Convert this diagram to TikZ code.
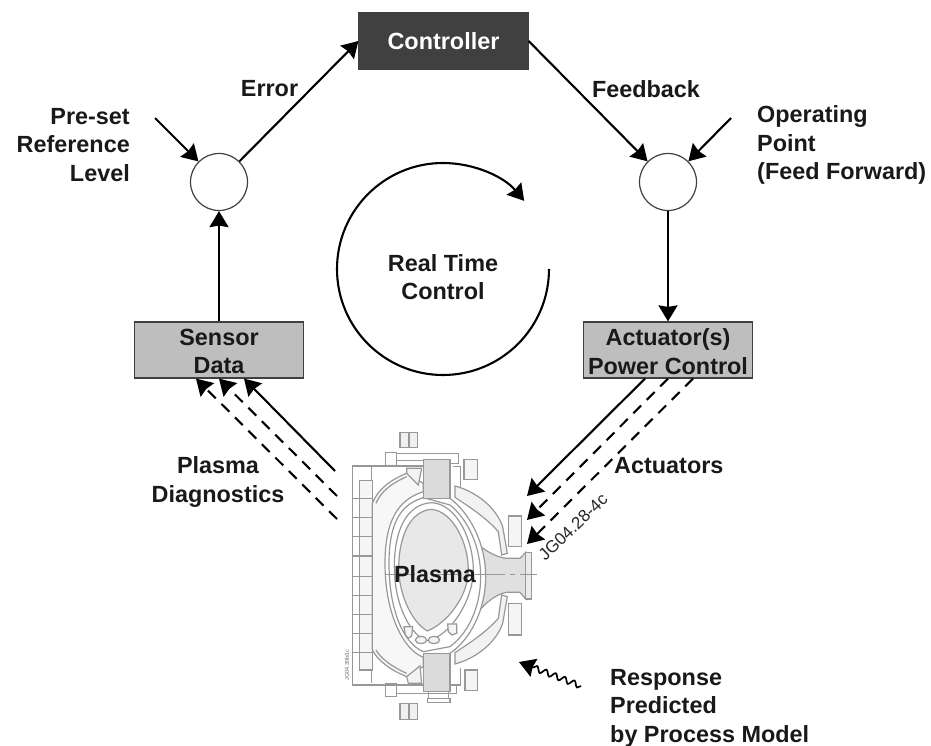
\documentclass[tikz,border=0pt]{standalone}
\usepackage{fontspec}
\setmainfont{Liberation Sans}
\usetikzlibrary{arrows.meta,decorations.pathmorphing}
\definecolor{darkbox}{HTML}{404040}
\definecolor{greybox}{HTML}{BEBEBE}
\definecolor{wallline}{HTML}{989898}
\tikzset{
  lbl/.style={font=\fontsize{23.4}{28.5}\selectfont\bfseries,inner sep=0pt,text=black!90},
  ctrlbox/.style={draw=darkbox,line width=1.2pt,minimum width=169pt,minimum height=56pt,inner sep=0pt},
  sumnode/.style={circle,draw=darkbox,line width=1.2pt,fill=white,minimum size=57pt,inner sep=0pt},
  flow/.style={line width=2.1pt,-{Stealth[length=16pt,width=19pt,inset=1.5pt]}},
  flowdash/.style={flow,dash pattern=on 11pt off 8pt},
  wall/.style={draw=wallline,line width=1.2pt},
}
\begin{document}
\begin{tikzpicture}[x=1pt,y=-1pt]
  \useasboundingbox (0,0) rectangle (931,746);
  % Tokamak section
  \begin{scope}[shift={(340,420)},x=0.3333pt,y=-0.3333pt]
    % coils top and bottom
    \foreach \x in {180,207} {
      \draw[wall,fill=black!6] (\x,37) rectangle +(26,46);
      \draw[wall,fill=black!6] (\x,850) rectangle +(26,48);
    }
    \draw[wall,fill=black!4] (372,118) rectangle (412,178);
    \draw[wall,fill=black!4] (505,288) rectangle (545,380);
    \draw[wall,fill=black!4] (505,550) rectangle (545,645);
    \draw[wall,fill=black!4] (375,750) rectangle (412,812);
    % frame
    \draw[wall] (38,135) -- (38,795) -- (250,795) (38,138) -- (250,138);
    \draw[wall] (95,138) -- (95,790);
    \draw[wall] (137,97) rectangle (170,140);
    \draw[wall] (137,790) rectangle (170,830);
    \draw[wall] (170,100) -- (355,100) -- (355,130) -- (330,130) (170,122) -- (250,122);
    \draw[wall] (170,820) -- (350,820) -- (350,795) -- (330,795);
    \draw[wall] (265,815) rectangle (325,835) (262,835) rectangle (330,848);
    \draw[wall] (340,140) -- (362,140) -- (362,200) (340,795) -- (362,795) -- (362,745);
    % left stack
    \draw[wall,fill=black!4] (58,182) rectangle (97,750);
    \foreach \y in {235,292,350,408,470,527,583,640,697} {
      \draw[wall] (38,\y) -- (97,\y);
    }
    % outer shell left
    \draw[wall,fill=black!3] (200,160) .. controls (150,180) and (112,210) .. (97,250)
      -- (97,690) .. controls (112,720) and (150,750) .. (200,770)
      -- (250,740) -- (250,190) -- cycle;
    \draw[wall] (200,170) .. controls (155,190) and (122,215) .. (108,250);
    \draw[wall] (200,760) .. controls (155,740) and (122,715) .. (108,690);
    \draw[wall,fill=black!5] (200,145) -- (245,145) -- (235,195) -- (200,160) -- cycle;
    \draw[wall,fill=black!5] (200,770) -- (240,738) -- (245,790) -- (205,790) -- cycle;
    % outer shell right
    \draw[wall,fill=black!5] (345,198) .. controls (410,215) and (470,265) .. (488,320)
      -- (502,400) -- (485,405) -- (475,335) .. controls (440,295) and (395,265) .. (345,232) -- cycle;
    \draw[wall,fill=black!5] (345,732) .. controls (410,715) and (470,665) .. (488,610)
      -- (502,530) -- (485,525) -- (475,595) .. controls (440,635) and (395,665) .. (345,698) -- cycle;
    % port
    \draw[wall,fill=black!12] (410,370) .. controls (440,395) and (470,412) .. (500,415)
      -- (540,415) -- (557,397) -- (557,537) -- (540,517) -- (500,517)
      .. controls (470,522) and (440,545) .. (410,580) -- cycle;
    \draw[wall,fill=black!8] (557,397) rectangle (575,537);
    % vessel
    \draw[wall,fill=white] (250,215) .. controls (190,235) and (135,280) .. (135,430)
      .. controls (135,580) and (190,690) .. (250,712) -- (330,700)
      .. controls (390,660) and (437,570) .. (437,470)
      .. controls (437,370) and (390,280) .. (330,235) -- cycle;
    \draw[wall] (250,233) .. controls (195,250) and (147,290) .. (147,430)
      .. controls (147,570) and (190,670) .. (250,695) -- (330,680)
      .. controls (385,640) and (422,560) .. (422,470)
      .. controls (422,380) and (385,300) .. (330,255) -- cycle;
    \draw[wall] (275,248) .. controls (200,252) and (163,330) .. (163,440)
      .. controls (163,560) and (215,650) .. (262,662)
      .. controls (330,650) and (400,540) .. (400,450)
      .. controls (400,360) and (350,252) .. (275,248) -- cycle;
    % plasma
    \draw[wall,fill=black!9] (275,268) .. controls (215,272) and (178,340) .. (176,440)
      .. controls (176,530) and (220,610) .. (262,633)
      .. controls (320,610) and (385,530) .. (385,450)
      .. controls (385,370) and (340,275) .. (275,268) -- cycle;
    % divertor
    \draw[wall,fill=black!4] (192,620) -- (218,620) -- (215,648) -- (205,655) -- (196,645) -- cycle;
    \draw[wall,fill=black!4] (323,612) -- (350,612) -- (350,640) -- (335,645) -- (325,635) -- cycle;
    \draw[wall,fill=black!4] (243,660) ellipse (17 and 11);
    \draw[wall,fill=black!4] (282,660) ellipse (17 and 11);
    % central column
    \draw[wall,fill=black!14] (250,118) rectangle (330,235);
    \draw[wall,fill=black!14] (250,700) rectangle (330,815);
    % axis
    \draw[wallline,line width=1pt,dash pattern=on 30pt off 5pt on 5pt off 5pt] (135,465) -- (590,465);
  \end{scope}

  % Boxes and summing points
  \node[ctrlbox,fill=darkbox] (ctrl) at (443.5,41) {};
  \node[lbl,text=white] (ctrltext) at (ctrl) {Controller};
  \node[sumnode] (sumL) at (219,182) {};
  \node[sumnode] (sumR) at (668,182) {};
  \node[ctrlbox,fill=greybox] (sensor) at (219,350) {};
  \node[ctrlbox,fill=greybox] (actuator) at (668,350) {};
  \node[lbl,align=center] (sensortext) at (219,351.5) {Sensor\\Data};
  \node[lbl,align=center] (actuatortext) at (668,351.5) {Actuator(s)\\Power Control};

  % Free ends
  \coordinate (refIn) at (155,118);
  \coordinate (opIn) at (731,118);
  \coordinate (diagA) at (335,471);
  \coordinate (diagB) at (337,496);
  \coordinate (diagC) at (337,519);
  \coordinate (actA) at (527,496);
  \coordinate (actB) at (527,520);
  \coordinate (actC) at (527,544);
  \coordinate (waveTail) at (581,686);
  \coordinate (waveTip) at (519,662);

  % Loop
  \draw[flow] (sumL) -- (ctrl.west);
  \draw[flow] (ctrl.east) -- (sumR);
  \draw[flow] (refIn) -- (sumL);
  \draw[flow] (opIn) -- (sumR);
  \draw[flow] (sensor.north) -- (sumL.south);
  \draw[flow] (sumR.south) -- (actuator.north);
  \draw[flow] (549,269) arc (0:320:106);

  % Diagnostics and actuators
  \draw[flow] (diagA) -- ([xshift=25pt]sensor.south);
  \draw[flowdash] (diagB) -- (sensor.south);
  \draw[flowdash] (diagC) -- ([xshift=-23pt]sensor.south);
  \draw[flow] ([xshift=-23pt]actuator.south) -- (actA);
  \draw[flowdash] (actuator.south) -- (actB);
  \draw[flowdash] ([xshift=25pt]actuator.south) -- (actC);
  \draw[line width=1.7pt,-{Stealth[length=16pt,width=19pt,inset=1.5pt]},
    decorate,decoration={snake,amplitude=2.8pt,segment length=10pt,post length=14pt}] (waveTail) -- (waveTip);

  % Labels
  \node[lbl,align=right,anchor=east] (reflabel) at (130,145) {Pre-set\\Reference\\Level};
  \node[lbl,align=left,anchor=west] (oplabel) at (757,145) {Operating\\Point\\(Feed Forward)};
  \node[lbl] (errlabel) at (269.5,89) {Error};
  \node[lbl] (fblabel) at (646,89) {Feedback};
  \node[lbl,align=center] (rtlabel) at (443,277) {Real Time\\Control};
  \node[lbl,align=center] (diaglabel) at (218,482) {Plasma\\Diagnostics};
  \node[lbl,anchor=west] (actlabel) at (614,466) {Actuators};
  \node[lbl] (plasmalabel) at (435,574) {Plasma};
  \node[lbl,align=left,anchor=west] (resplabel) at (610,708) {Response\\Predicted\\by Process Model};
  \node[font=\fontsize{17}{17}\selectfont,rotate=44,inner sep=0pt,text=black!85] (jglabel) at (573,527) {JG04.28-4c};
  \node[font=\fontsize{5.5}{5.5}\selectfont,rotate=90,inner sep=0pt,text=black!60] (jgsmall) at (347,665) {JG04.30b/1c};
\end{tikzpicture}
\end{document}
